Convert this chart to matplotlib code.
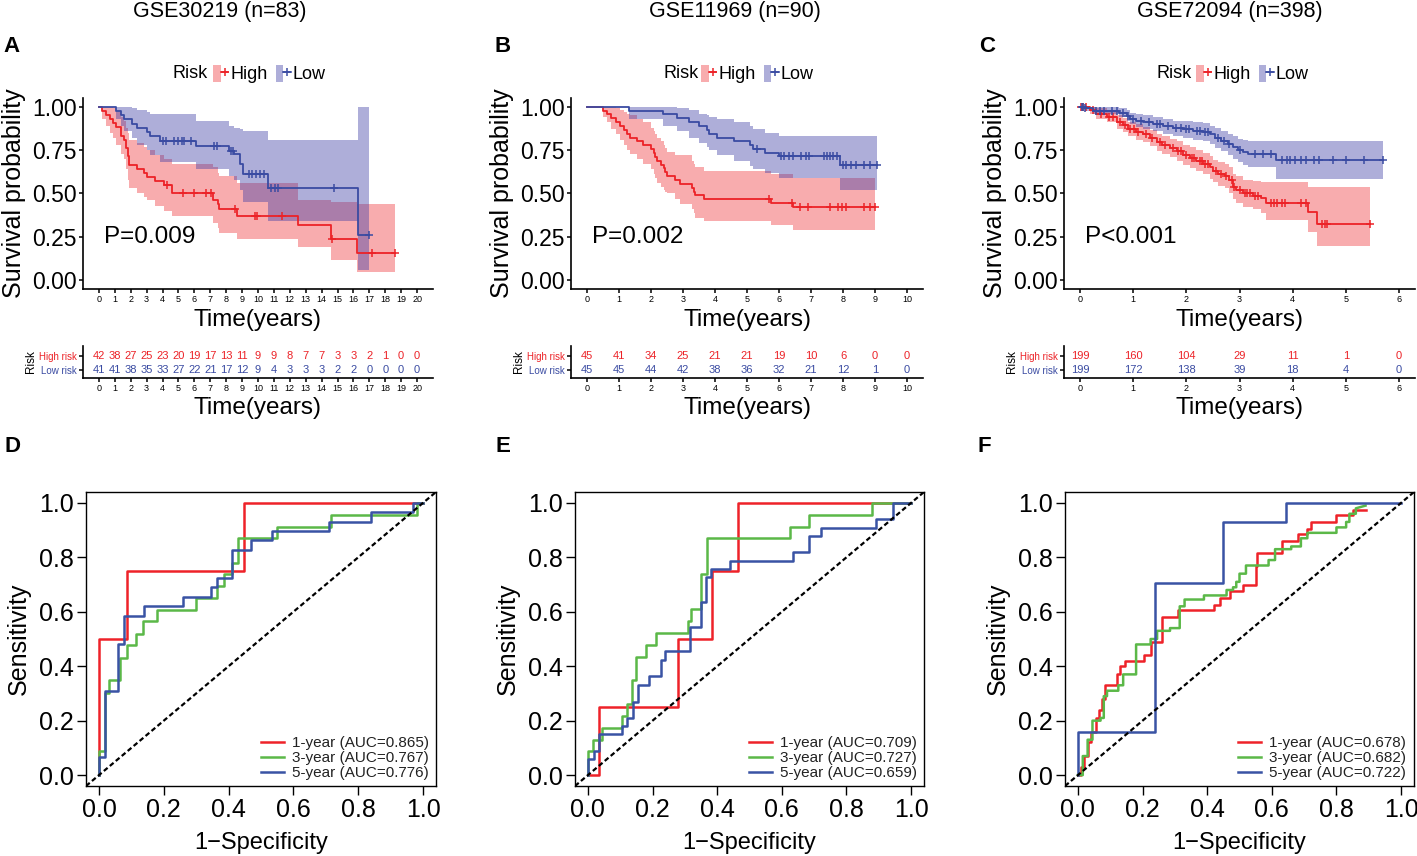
import numpy as np
import matplotlib
matplotlib.use('Agg')
import matplotlib.pyplot as plt
from matplotlib.patches import Patch
from matplotlib.lines import Line2D
from matplotlib.legend_handler import HandlerTuple

plt.rcParams['font.family'] = ['Liberation Sans', 'DejaVu Sans']

# ---- Kaplan-Meier data ----
titles = ['GSE30219 (n=83)', 'GSE11969 (n=90)', 'GSE72094 (n=398)']
pvals = ['P=0.009', 'P=0.002', 'P<0.001']

# GSE30219 high risk
a_high_t = [0, 0.2, 0.45, 0.7, 0.9, 1.1, 1.37, 1.55, 1.7, 1.8, 1.9, 2.4, 2.85, 3.0, 3.5, 4.1, 4.6, 7.2, 7.47, 7.55, 8.65, 12.5, 14.6, 16.2]
a_high_s = [1.0, 0.976, 0.952, 0.929, 0.905, 0.881, 0.833, 0.81, 0.762, 0.714, 0.667, 0.643, 0.619, 0.595, 0.571, 0.548, 0.50, 0.46, 0.44, 0.41, 0.37, 0.32, 0.24, 0.155]
a_high_lo = [1.0, 0.93, 0.89, 0.85, 0.82, 0.78, 0.73, 0.70, 0.64, 0.58, 0.53, 0.50, 0.48, 0.46, 0.43, 0.40, 0.37, 0.33, 0.30, 0.27, 0.24, 0.19, 0.115, 0.05]
a_high_up = [1.0, 1.0, 1.0, 1.0, 0.99, 0.97, 0.94, 0.92, 0.88, 0.85, 0.81, 0.79, 0.77, 0.75, 0.72, 0.70, 0.67, 0.65, 0.62, 0.60, 0.56, 0.46, 0.45, 0.44]
a_high_cens = [4.3, 5.3, 6.0, 6.75, 7.05, 8.55, 9.8, 9.95, 11.5, 14.65, 17.15, 18.6]
a_high_end = 18.6
# GSE30219 low risk
a_low_t = [0, 1.1, 1.4, 1.6, 2.05, 2.4, 3.0, 3.2, 3.85, 6.1, 8.2, 8.5, 8.85, 9.05, 10.6, 16.3]
a_low_s = [1.0, 0.976, 0.951, 0.927, 0.902, 0.878, 0.854, 0.829, 0.805, 0.773, 0.745, 0.725, 0.67, 0.615, 0.533, 0.26]
a_low_lo = [1.0, 0.93, 0.89, 0.86, 0.82, 0.78, 0.75, 0.72, 0.68, 0.64, 0.60, 0.58, 0.52, 0.45, 0.34, 0.06]
a_low_up = [1.0, 1.0, 1.0, 1.0, 0.99, 0.98, 0.97, 0.96, 0.96, 0.92, 0.89, 0.88, 0.87, 0.86, 0.81, 1.0]
a_low_cens = [4.0, 4.2, 4.75, 5.0, 5.2, 5.35, 5.8, 7.25, 7.4, 8.3, 8.4, 9.45, 9.65, 9.85, 10.1, 10.35, 10.8, 11.05, 11.25, 14.75, 17.0]
a_low_end = 17.0

# GSE11969 high risk
b_high_t = [0, 0.5, 0.625, 0.75, 0.9, 1.04, 1.15, 1.25, 1.35, 1.56, 1.75, 2.0, 2.08, 2.14, 2.2, 2.3, 2.4, 2.45, 2.5, 2.76, 2.9, 3.28, 3.33, 3.37, 3.65, 5.75, 6.45]
b_high_s = [1.0, 0.978, 0.956, 0.933, 0.911, 0.889, 0.867, 0.844, 0.822, 0.80, 0.778, 0.756, 0.733, 0.711, 0.689, 0.667, 0.644, 0.622, 0.60, 0.578, 0.556, 0.533, 0.511, 0.489, 0.467, 0.445, 0.42]
b_high_lo = [1.0, 0.94, 0.91, 0.87, 0.84, 0.81, 0.78, 0.75, 0.73, 0.70, 0.67, 0.64, 0.61, 0.59, 0.56, 0.54, 0.52, 0.51, 0.50, 0.47, 0.44, 0.41, 0.39, 0.36, 0.34, 0.32, 0.29]
b_high_up = [1.0, 1.0, 1.0, 1.0, 0.99, 0.98, 0.97, 0.96, 0.95, 0.93, 0.91, 0.88, 0.86, 0.84, 0.82, 0.80, 0.78, 0.76, 0.74, 0.72, 0.72, 0.69, 0.67, 0.65, 0.63, 0.61, 0.59]
b_high_cens = [5.7, 6.4, 6.65, 6.9, 7.6, 7.85, 7.96, 8.1, 8.65, 8.85, 9.0]
b_high_end = 9.0
# GSE11969 low risk
b_low_t = [0, 1.3, 2.37, 2.8, 3.2, 3.5, 3.75, 3.82, 4.05, 4.6, 5.08, 5.2, 5.57, 6.0, 7.92]
b_low_s = [1.0, 0.978, 0.956, 0.933, 0.911, 0.889, 0.867, 0.844, 0.822, 0.80, 0.778, 0.756, 0.735, 0.714, 0.665]
b_low_lo = [1.0, 0.93, 0.89, 0.86, 0.82, 0.79, 0.77, 0.75, 0.72, 0.69, 0.66, 0.64, 0.62, 0.59, 0.52]
b_low_up = [1.0, 1.0, 1.0, 0.99, 0.98, 0.96, 0.95, 0.94, 0.93, 0.91, 0.89, 0.87, 0.85, 0.83, 0.83]
b_low_cens = [5.3, 6.07, 6.15, 6.3, 6.45, 6.7, 6.85, 6.95, 7.4, 7.5, 7.6, 7.7, 7.8, 8.0, 8.1, 8.25, 8.4, 8.65, 8.85, 9.05]
b_low_end = 9.05

# GSE72094 high risk
c_high_t = [0, 0.19, 0.31, 0.5, 0.69, 0.81, 0.91, 1.06, 1.19, 1.31, 1.44, 1.55, 1.69, 1.82, 1.94, 2.07, 2.19, 2.32, 2.44, 2.5, 2.6, 2.72, 2.8, 2.87, 2.94, 3.07, 3.26, 3.41, 3.5, 4.29, 4.46]
c_high_s = [1.0, 0.98, 0.96, 0.94, 0.91, 0.895, 0.87, 0.856, 0.84, 0.82, 0.795, 0.78, 0.762, 0.743, 0.722, 0.705, 0.69, 0.67, 0.65, 0.628, 0.613, 0.598, 0.575, 0.54, 0.52, 0.50, 0.488, 0.473, 0.445, 0.393, 0.326]
c_high_lo = [1.0, 0.96, 0.93, 0.91, 0.87, 0.855, 0.83, 0.81, 0.795, 0.775, 0.745, 0.73, 0.71, 0.69, 0.665, 0.645, 0.63, 0.61, 0.585, 0.565, 0.545, 0.53, 0.505, 0.47, 0.445, 0.425, 0.41, 0.39, 0.345, 0.28, 0.197]
c_high_up = [1.0, 1.0, 0.99, 0.97, 0.95, 0.935, 0.91, 0.90, 0.885, 0.865, 0.845, 0.83, 0.815, 0.80, 0.78, 0.765, 0.75, 0.735, 0.715, 0.695, 0.68, 0.67, 0.65, 0.615, 0.60, 0.58, 0.57, 0.565, 0.565, 0.54, 0.535]
c_high_cens = [0.02, 0.05, 0.12, 0.25, 0.4, 0.55, 0.62, 0.75, 0.85, 0.95, 1.02, 1.1, 1.25, 1.35, 1.5, 1.6, 1.75, 1.85, 1.9, 2.0, 2.1, 2.15, 2.25, 2.3, 2.35, 2.4, 2.55, 2.65, 2.75, 2.85, 2.9, 3.0, 3.1, 3.15, 3.2, 3.3, 3.35, 3.6, 3.65, 3.7, 3.8, 3.85, 4.15, 4.25, 4.55, 4.6, 4.65, 5.45]
c_high_end = 5.45
# GSE72094 low risk
c_low_t = [0, 0.09, 0.25, 0.74, 0.88, 0.94, 1.06, 1.19, 1.38, 1.57, 1.75, 1.94, 2.13, 2.32, 2.44, 2.54, 2.66, 2.79, 2.88, 2.97, 3.07, 3.16, 3.69]
c_low_s = [1.0, 0.99, 0.978, 0.962, 0.948, 0.93, 0.92, 0.91, 0.90, 0.89, 0.877, 0.87, 0.862, 0.856, 0.84, 0.82, 0.805, 0.785, 0.766, 0.75, 0.738, 0.728, 0.693]
c_low_lo = [1.0, 0.975, 0.96, 0.94, 0.92, 0.90, 0.885, 0.87, 0.86, 0.845, 0.83, 0.82, 0.81, 0.80, 0.785, 0.76, 0.745, 0.72, 0.70, 0.68, 0.665, 0.65, 0.585]
c_low_up = [1.0, 1.0, 1.0, 0.99, 0.98, 0.965, 0.955, 0.95, 0.94, 0.93, 0.92, 0.915, 0.91, 0.905, 0.89, 0.875, 0.86, 0.845, 0.83, 0.815, 0.81, 0.805, 0.805]
c_low_cens = [0.03, 0.06, 0.1, 0.3, 0.38, 0.45, 0.6, 0.7, 0.8, 0.9, 1.0, 1.15, 1.3, 1.45, 1.5, 1.65, 1.8, 1.9, 2.0, 2.05, 2.2, 2.25, 2.35, 2.4, 2.6, 2.7, 2.8, 3.0, 3.3, 3.45, 3.6, 3.8, 3.9, 3.95, 4.05, 4.15, 4.25, 4.4, 4.5, 4.75, 5.0, 5.35, 5.7]
c_low_end = 5.7

# numbers at risk
a_breaks = list(range(0, 21))
a_risk_high = [42, 38, 27, 25, 23, 20, 19, 17, 13, 11, 9, 9, 8, 7, 7, 3, 3, 2, 1, 0, 0]
a_risk_low = [41, 41, 38, 35, 33, 27, 22, 21, 17, 12, 9, 4, 3, 3, 3, 2, 2, 0, 0, 0, 0]
b_breaks = list(range(0, 11))
b_risk_high = [45, 41, 34, 25, 21, 21, 19, 10, 6, 0, 0]
b_risk_low = [45, 45, 44, 42, 38, 36, 32, 21, 12, 1, 0]
c_breaks = list(range(0, 7))
c_risk_high = [199, 160, 104, 29, 11, 1, 0]
c_risk_low = [199, 172, 138, 39, 18, 4, 0]

# ---- ROC data ----
d_fpr_1 = [0, 0, 0.0875, 0.0875, 0.449, 0.449, 1.0]
d_tpr_1 = [0, 0.5, 0.5, 0.75, 0.75, 1.0, 1.0]
d_fpr_3 = [0, 0, 0.02, 0.02, 0.03, 0.03, 0.065, 0.065, 0.085, 0.085, 0.115, 0.115, 0.135, 0.135, 0.18, 0.18, 0.30, 0.30, 0.365, 0.365, 0.385, 0.385, 0.41, 0.41, 0.43, 0.43, 0.55, 0.55, 0.715, 0.715, 0.98, 0.98, 1.0]
d_tpr_3 = [0, 0.087, 0.087, 0.30, 0.30, 0.35, 0.35, 0.43, 0.43, 0.478, 0.478, 0.52, 0.52, 0.565, 0.565, 0.608, 0.608, 0.652, 0.652, 0.695, 0.695, 0.74, 0.74, 0.78, 0.78, 0.87, 0.87, 0.913, 0.913, 0.956, 0.956, 1.0, 1.0]
d_fpr_5 = [0, 0, 0.018, 0.018, 0.06, 0.06, 0.078, 0.078, 0.14, 0.14, 0.26, 0.26, 0.345, 0.345, 0.365, 0.365, 0.41, 0.41, 0.47, 0.47, 0.535, 0.535, 0.71, 0.71, 0.84, 0.84, 0.97, 0.97, 1.0]
d_tpr_5 = [0, 0.065, 0.065, 0.31, 0.31, 0.48, 0.48, 0.586, 0.586, 0.62, 0.62, 0.655, 0.655, 0.69, 0.69, 0.724, 0.724, 0.828, 0.828, 0.862, 0.862, 0.897, 0.897, 0.931, 0.931, 0.966, 0.966, 1.0, 1.0]

e_fpr_1 = [0, 0.035, 0.035, 0.28, 0.28, 0.385, 0.385, 0.465, 0.465, 1.0]
e_tpr_1 = [0, 0, 0.25, 0.25, 0.5, 0.5, 0.75, 0.75, 1.0, 1.0]
e_fpr_3 = [0, 0, 0.015, 0.015, 0.045, 0.045, 0.105, 0.105, 0.12, 0.12, 0.135, 0.135, 0.15, 0.15, 0.18, 0.18, 0.21, 0.21, 0.31, 0.31, 0.32, 0.32, 0.35, 0.35, 0.37, 0.37, 0.625, 0.625, 0.685, 0.685, 0.88, 0.88, 1.0]
e_tpr_3 = [0, 0.087, 0.087, 0.13, 0.13, 0.174, 0.174, 0.217, 0.217, 0.26, 0.26, 0.348, 0.348, 0.435, 0.435, 0.478, 0.478, 0.522, 0.522, 0.565, 0.565, 0.609, 0.609, 0.739, 0.739, 0.87, 0.87, 0.913, 0.913, 0.957, 0.957, 1.0, 1.0]
e_fpr_5 = [0, 0, 0.02, 0.02, 0.035, 0.035, 0.105, 0.105, 0.12, 0.12, 0.14, 0.14, 0.155, 0.155, 0.19, 0.19, 0.225, 0.225, 0.24, 0.24, 0.315, 0.315, 0.35, 0.35, 0.365, 0.365, 0.38, 0.38, 0.44, 0.44, 0.635, 0.635, 0.685, 0.685, 0.72, 0.72, 0.89, 0.89, 0.945, 0.945, 1.0]
e_tpr_5 = [0, 0.06, 0.06, 0.09, 0.09, 0.15, 0.15, 0.18, 0.18, 0.21, 0.21, 0.27, 0.27, 0.33, 0.33, 0.364, 0.364, 0.424, 0.424, 0.455, 0.455, 0.545, 0.545, 0.636, 0.636, 0.727, 0.727, 0.758, 0.758, 0.788, 0.788, 0.818, 0.818, 0.879, 0.879, 0.909, 0.909, 0.94, 0.94, 1.0, 1.0]

f_fpr_1 = [0, 0.01, 0.01, 0.02, 0.02, 0.03, 0.03, 0.04, 0.04, 0.055, 0.055, 0.065, 0.065, 0.075, 0.075, 0.085, 0.085, 0.12, 0.12, 0.13, 0.13, 0.145, 0.145, 0.205, 0.205, 0.225, 0.225, 0.26, 0.26, 0.31, 0.31, 0.42, 0.42, 0.44, 0.44, 0.47, 0.47, 0.51, 0.51, 0.55, 0.55, 0.555, 0.555, 0.63, 0.63, 0.68, 0.68, 0.71, 0.71, 0.72, 0.72, 0.80, 0.80, 0.85, 0.85, 0.89]
f_tpr_1 = [0, 0, 0.03, 0.03, 0.07, 0.07, 0.12, 0.12, 0.16, 0.16, 0.21, 0.21, 0.24, 0.24, 0.28, 0.28, 0.33, 0.33, 0.37, 0.37, 0.40, 0.40, 0.42, 0.42, 0.44, 0.44, 0.49, 0.49, 0.58, 0.58, 0.605, 0.605, 0.625, 0.625, 0.65, 0.65, 0.675, 0.675, 0.70, 0.70, 0.77, 0.77, 0.815, 0.815, 0.86, 0.86, 0.885, 0.885, 0.905, 0.905, 0.93, 0.93, 0.955, 0.955, 0.975, 0.975]
f_fpr_3 = [0, 0.015, 0.015, 0.03, 0.03, 0.045, 0.045, 0.07, 0.07, 0.08, 0.08, 0.09, 0.09, 0.125, 0.125, 0.14, 0.14, 0.18, 0.18, 0.225, 0.225, 0.245, 0.245, 0.285, 0.285, 0.315, 0.315, 0.33, 0.33, 0.39, 0.39, 0.46, 0.46, 0.48, 0.48, 0.49, 0.49, 0.50, 0.50, 0.52, 0.52, 0.59, 0.59, 0.61, 0.61, 0.66, 0.66, 0.69, 0.69, 0.71, 0.71, 0.80, 0.80, 0.83, 0.83, 0.84, 0.84, 0.86, 0.86, 0.89]
f_tpr_3 = [0, 0, 0.07, 0.07, 0.13, 0.13, 0.20, 0.20, 0.21, 0.21, 0.29, 0.29, 0.31, 0.31, 0.33, 0.33, 0.37, 0.37, 0.48, 0.48, 0.50, 0.50, 0.53, 0.53, 0.54, 0.54, 0.62, 0.62, 0.645, 0.645, 0.66, 0.66, 0.68, 0.68, 0.69, 0.69, 0.71, 0.71, 0.74, 0.74, 0.77, 0.77, 0.79, 0.79, 0.83, 0.83, 0.84, 0.84, 0.87, 0.87, 0.89, 0.89, 0.91, 0.91, 0.93, 0.93, 0.96, 0.96, 0.98, 0.99]
f_fpr_5 = [0, 0, 0.24, 0.24, 0.45, 0.45, 0.645, 0.645, 1.0]
f_tpr_5 = [0, 0.157, 0.157, 0.705, 0.705, 0.93, 0.93, 1.0, 1.0]

d_auc = ['1-year (AUC=0.865)', '3-year (AUC=0.767)', '5-year (AUC=0.776)']
e_auc = ['1-year (AUC=0.709)', '3-year (AUC=0.727)', '5-year (AUC=0.659)']
f_auc = ['1-year (AUC=0.678)', '3-year (AUC=0.682)', '5-year (AUC=0.722)']

# ---- styling ----
W, H = 1417, 856
RED = '#EC2227'
BLUE = '#3A4BA2'
RED_FILL = '#EF3B3F'
BLUE_FILL = '#3E3EA6'
FILL_ALPHA = 0.42
ROC_COLS = ['#EE2229', '#5BB848', '#3953A4']


def px_axes(fig, left, top, right, bottom):
    return fig.add_axes([left / W, 1 - bottom / H, (right - left) / W, (bottom - top) / H])


def fx(x):
    return x / W


def fy(y):
    return 1 - y / H


def km_curve(ax, t, s, lo, up, cens, end, color, fill):
    t = np.asarray(t)
    s = np.asarray(s)
    x = np.append(t, end)
    ax.fill_between(x, np.append(lo, lo[-1]), np.append(up, up[-1]), step='post',
                    color=fill, alpha=FILL_ALPHA, lw=0)
    return x, np.append(s, s[-1]), cens, t, s


def km_lines(ax, curve, color):
    x, y, cens, t, s = curve
    ax.step(x, y, where='post', color=color, lw=1.3)
    idx = np.searchsorted(t, cens, side='right') - 1
    ax.plot(cens, s[idx], ls='none', marker='+', ms=5.5, mew=1.1, color=color)


def style_classic(ax):
    for side in ['top', 'right']:
        ax.spines[side].set_visible(False)
    for side in ['left', 'bottom']:
        ax.spines[side].set_linewidth(1.2)
    ax.tick_params(direction='out', length=3, width=1.1, pad=1.5)


fig = plt.figure(figsize=(W / 100, H / 100), dpi=100)

km_sets = [
    (83, 433, (-1, 21), a_breaks,
     (a_high_t, a_high_s, a_high_lo, a_high_up, a_high_cens, a_high_end),
     (a_low_t, a_low_s, a_low_lo, a_low_up, a_low_cens, a_low_end),
     a_risk_high, a_risk_low),
    (571, 923, (-0.5, 10.5), b_breaks,
     (b_high_t, b_high_s, b_high_lo, b_high_up, b_high_cens, b_high_end),
     (b_low_t, b_low_s, b_low_lo, b_low_up, b_low_cens, b_low_end),
     b_risk_high, b_risk_low),
    (1064, 1415, (-0.3, 6.3), c_breaks,
     (c_high_t, c_high_s, c_high_lo, c_high_up, c_high_cens, c_high_end),
     (c_low_t, c_low_s, c_low_lo, c_low_up, c_low_cens, c_low_end),
     c_risk_high, c_risk_low),
]
letters_top = ['A', 'B', 'C']
letter_x_top = [12, 503, 987]
legend_x = [(208, 213), (699, 701), (1192, 1196)]

for i, (l, r, xlim, breaks, hi, lo, rh, rl) in enumerate(km_sets):
    ax = px_axes(fig, l, 98, r, 289)
    ch = km_curve(ax, *hi, RED, RED_FILL)
    cl = km_curve(ax, *lo, BLUE, BLUE_FILL)
    km_lines(ax, ch, RED)
    km_lines(ax, cl, BLUE)
    ax.set_xlim(*xlim)
    ax.set_ylim(-0.05, 1.05)
    ax.set_xticks(breaks)
    ax.set_xticklabels([str(b) for b in breaks], fontsize=6.5)
    ax.set_yticks([0, 0.25, 0.5, 0.75, 1.0])
    ax.set_yticklabels(['0.00', '0.25', '0.50', '0.75', '1.00'], fontsize=16.5)
    style_classic(ax)
    ax.set_ylabel('Survival probability', fontsize=18, labelpad=4.5)
    ax.set_xlabel('Time(years)', fontsize=17.5, labelpad=3.5)
    ax.text(0.06, 0.27, pvals[i], transform=ax.transAxes, fontsize=17.5, va='center')
    fig.text(fx((l + r) / 2 + [-38, -12, -10][i]), fy(12), titles[i], fontsize=15.5,
             ha='center', va='center')
    fig.text(fx(letter_x_top[i]), fy(46), letters_top[i], fontsize=16, fontweight='bold',
             ha='center', va='center')

    # legend
    fig.text(fx(legend_x[i][0]), fy(74), 'Risk', fontsize=13, ha='right', va='center')
    h_hi = (Patch(facecolor=RED_FILL, alpha=FILL_ALPHA, lw=0),
            Line2D([], [], color=RED, lw=1.2, marker='+', ms=5.5, mew=1.1))
    h_lo = (Patch(facecolor=BLUE_FILL, alpha=FILL_ALPHA, lw=0),
            Line2D([], [], color=BLUE, lw=1.2, marker='+', ms=5.5, mew=1.1))
    fig.legend([h_hi, h_lo], ['High', 'Low'], ncol=2, frameon=False, fontsize=13,
               handler_map={tuple: HandlerTuple(ndivide=None, pad=0)},
               loc='center left', bbox_to_anchor=(fx(legend_x[i][1]), fy(74)),
               borderaxespad=0, borderpad=0, handlelength=0.85, handleheight=1.1,
               handletextpad=0.1, columnspacing=0.45)

    # risk table
    rt = px_axes(fig, l, 346, r, 378)
    for b, nh, nl in zip(breaks, rh, rl):
        rt.text(b, 1, str(nh), color=RED, fontsize=8, ha='center', va='center')
        rt.text(b, 0, str(nl), color=BLUE, fontsize=8, ha='center', va='center')
    rt.set_xlim(*xlim)
    rt.set_ylim(-0.57, 1.71)
    rt.set_xticks(breaks)
    rt.set_xticklabels([str(b) for b in breaks], fontsize=6.5)
    rt.set_yticks([0, 1])
    rt.set_yticklabels(['Low risk', 'High risk'], fontsize=7)
    rt.get_yticklabels()[0].set_color(BLUE)
    rt.get_yticklabels()[1].set_color(RED)
    style_classic(rt)
    rt.set_ylabel('Risk', fontsize=8.5, labelpad=1)
    rt.set_xlabel('Time(years)', fontsize=17.5, labelpad=2.5)

# ---- ROC panels ----
roc_sets = [
    (86, 436, [(d_fpr_1, d_tpr_1), (d_fpr_3, d_tpr_3), (d_fpr_5, d_tpr_5)], d_auc, 429),
    (575, 924, [(e_fpr_1, e_tpr_1), (e_fpr_3, e_tpr_3), (e_fpr_5, e_tpr_5)], e_auc, 917),
    (1065, 1414, [(f_fpr_1, f_tpr_1), (f_fpr_3, f_tpr_3), (f_fpr_5, f_tpr_5)], f_auc, 1406),
]
letters_bot = ['D', 'E', 'F']
letter_x_bot = [12, 503, 984]

for i, (l, r, curves, labels, leg_r) in enumerate(roc_sets):
    ax = px_axes(fig, l, 492, r, 786)
    for (fpr, tpr), col, lab in zip(curves, ROC_COLS, labels):
        ax.plot(fpr, tpr, color=col, lw=1.8, label=lab)
    ax.axline((0, 0), slope=1, color='black', lw=1.6, ls=(0, (2.2, 1.3)))
    ax.set_xlim(-0.04, 1.04)
    ax.set_ylim(-0.04, 1.04)
    ticks = [0, 0.2, 0.4, 0.6, 0.8, 1.0]
    ax.set_xticks(ticks)
    ax.set_yticks(ticks)
    ax.set_xticklabels(['%.1f' % v for v in ticks], fontsize=18)
    ax.set_yticklabels(['%.1f' % v for v in ticks], fontsize=18)
    for sp in ax.spines.values():
        sp.set_linewidth(1.0)
    ax.tick_params(direction='out', length=6.5, width=1.0, pad=2)
    ax.set_xlabel('1\u2212Specificity', fontsize=17, labelpad=7)
    ax.set_ylabel('Sensitivity', fontsize=18, labelpad=6)
    leg = ax.legend(loc='lower right', frameon=False, fontsize=11,
                    bbox_to_anchor=((leg_r - l) / (r - l), (786 - 780) / 294),
                    borderaxespad=0, borderpad=0, handlelength=1.5, handletextpad=0.5,
                    labelspacing=0.05)
    for txt in leg.get_texts():
        txt.set_color('#222222')
    fig.text(fx(letter_x_bot[i]), fy(447), letters_bot[i], fontsize=16, fontweight='bold',
             ha='center', va='center')

fig.savefig('out.png', dpi=100)
